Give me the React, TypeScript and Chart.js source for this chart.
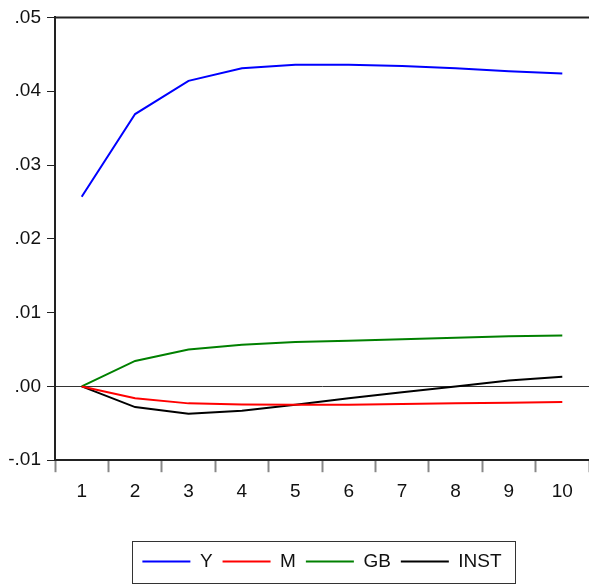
import React, { useEffect, useRef } from "react";
import { Chart, registerables } from "chart.js";

Chart.register(...registerables);

const periods = ["1", "2", "3", "4", "5", "6", "7", "8", "9", "10"];
const seriesY = [0.0257, 0.0369, 0.0414, 0.0431, 0.0436, 0.0436, 0.0434, 0.0431, 0.0427, 0.0424];
const seriesM = [0.0, -0.0016, -0.0023, -0.00245, -0.0025, -0.0025, -0.0024, -0.0023, -0.0022, -0.0021];
const seriesGB = [0.0, 0.00345, 0.0050, 0.00566, 0.0060, 0.0062, 0.0064, 0.0066, 0.0068, 0.0069];
const seriesINST = [0.0, -0.0028, -0.0037, -0.0033, -0.0025, -0.0016, -0.0008, 0.0000, 0.0008, 0.0013];
const yTickMin = -0.01;
const yTickMax = 0.05;
const yTickStep = 0.01;

const fmt = (v: number) => {
  const s = Number(v).toFixed(2);
  return s.replace(/^(-?)0\./, "$1.");
};

const framePlugin = {
  id: "frame",
  afterDraw(chart: any) {
    const ctx = chart.ctx;
    const a = chart.chartArea;
    ctx.save();
    ctx.strokeStyle = "#222";
    ctx.lineWidth = 2;
    ctx.beginPath();
    ctx.moveTo(a.left, a.top);
    ctx.lineTo(a.right, a.top);
    ctx.stroke();
    const lg = chart.legend;
    if (lg && lg.legendHitBoxes && lg.legendHitBoxes.length) {
      const hb = lg.legendHitBoxes;
      const minX = hb[0].left;
      const last = hb[hb.length - 1];
      const maxX = last.left + last.width;
      const cy = hb[0].top + hb[0].height / 2;
      ctx.lineWidth = 1;
      ctx.strokeStyle = "#333";
      ctx.strokeRect(Math.round(minX - 10) + 0.5, Math.round(cy - 21) + 0.5, Math.round(maxX - minX + 24), 42);
    }
    ctx.restore();
  },
};

export default function App() {
  const ref = useRef<HTMLCanvasElement | null>(null);
  useEffect(() => {
    if (!ref.current) return;
    const font = { family: "'Liberation Sans', Arial, sans-serif", size: 19 };
    const chart = new Chart(ref.current, {
      type: "line",
      data: {
        labels: periods,
        datasets: [
          { label: "Y", data: seriesY, borderColor: "#0000ff", backgroundColor: "#0000ff", borderWidth: 2 },
          { label: "M", data: seriesM, borderColor: "#ff0000", backgroundColor: "#ff0000", borderWidth: 2 },
          { label: "GB", data: seriesGB, borderColor: "#008000", backgroundColor: "#008000", borderWidth: 2 },
          { label: "INST", data: seriesINST, borderColor: "#000000", backgroundColor: "#000000", borderWidth: 2 },
        ],
      },
      options: {
        responsive: false,
        animation: false,
        elements: {
          line: { borderWidth: 2, tension: 0 },
          point: { radius: 0 },
        },
        layout: { padding: { top: 15, right: 0, left: 0, bottom: 4 } },
        plugins: {
          tooltip: { enabled: false },
          legend: {
            position: "bottom",
            fullSize: false,
            labels: {
              usePointStyle: true,
              pointStyle: "line",
              pointStyleWidth: 48,
              padding: 10,
              color: "#111",
              font,
            },
          },
        },
        scales: {
          x: {
            type: "category",
            offset: true,
            afterFit(scale: any) {
              scale.height += 31;
            },
            grid: {
              offset: true,
              drawOnChartArea: false,
              tickLength: 12,
              tickColor: "#888",
              tickWidth: 2,
            },
            border: { display: true, color: "#222", width: 2 },
            ticks: { color: "#111", font, padding: 8, maxRotation: 0 },
          },
          y: {
            min: yTickMin,
            max: yTickMax,
            afterFit(scale: any) {
              scale.width = 55;
            },
            grid: {
              drawOnChartArea: true,
              color: (c: any) => (c.tick && Math.abs(c.tick.value) < 1e-9 ? "#333" : "rgba(0,0,0,0)"),
              tickColor: "#222",
              tickLength: 8,
              lineWidth: 1,
            },
            border: { display: true, color: "#222", width: 2 },
            ticks: {
              stepSize: yTickStep,
              color: "#111",
              font,
              padding: 6,
              callback: (v: any) => fmt(v),
            },
          },
        },
      },
      plugins: [framePlugin],
    } as any);
    return () => chart.destroy();
  }, []);
  return (
    <div style={{ position: "absolute", left: 0, top: 0, width: 589, height: 585, background: "#fff" }}>
      <canvas ref={ref} width={589} height={585} style={{ width: 589, height: 585, display: "block" }} />
    </div>
  );
}
